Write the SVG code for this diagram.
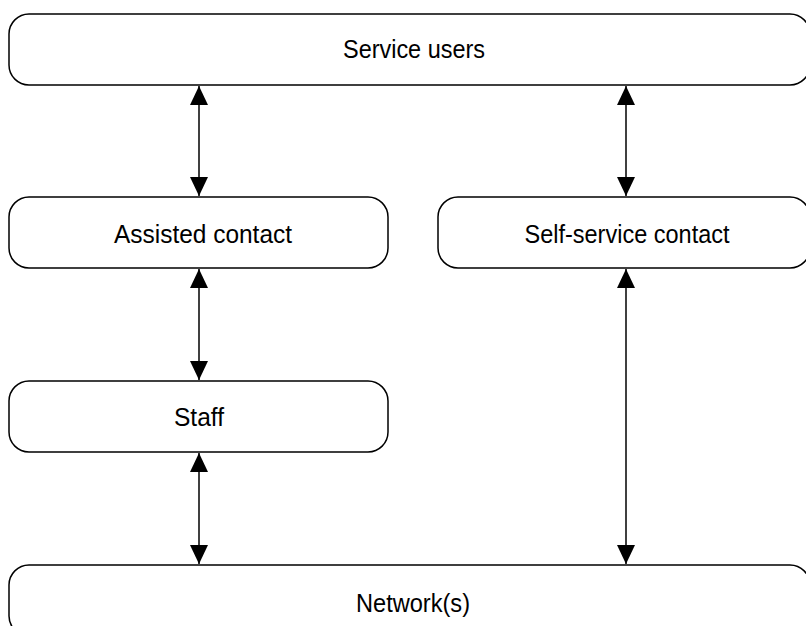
<svg xmlns="http://www.w3.org/2000/svg" width="806" height="626" viewBox="0 0 806 626">
<defs>
<style>
.box{fill:#fff;stroke:#000;stroke-width:1.5}
.lbl{font-family:"Liberation Sans",Arial,sans-serif;font-size:25px;fill:#000;text-anchor:middle}
.con{stroke:#000;stroke-width:1.5;fill:none;marker-start:url(#ah);marker-end:url(#ah)}
</style>
<marker id="ah" viewBox="0 0 19 18" refX="19" refY="9" markerWidth="19" markerHeight="18" markerUnits="userSpaceOnUse" orient="auto-start-reverse">
<path d="M0,0 L19,9 L0,18 Z" fill="#000"/>
</marker>
</defs>
<rect width="806" height="626" fill="#fff"/>
<g id="service-users">
<rect class="box" x="9" y="14" width="801" height="71" rx="20"/>
<text class="lbl" x="414" y="58" textLength="142" lengthAdjust="spacingAndGlyphs">Service users</text>
</g>
<g id="assisted-contact">
<rect class="box" x="9" y="197" width="379" height="71" rx="20"/>
<text class="lbl" x="203" y="243" textLength="178" lengthAdjust="spacingAndGlyphs">Assisted contact</text>
</g>
<g id="self-service-contact">
<rect class="box" x="438" y="197" width="372" height="71" rx="20"/>
<text class="lbl" x="627" y="243" textLength="205" lengthAdjust="spacingAndGlyphs">Self-service contact</text>
</g>
<g id="staff">
<rect class="box" x="9" y="381" width="379" height="71" rx="20"/>
<text class="lbl" x="199" y="426" textLength="50" lengthAdjust="spacingAndGlyphs">Staff</text>
</g>
<g id="networks">
<rect class="box" x="9" y="565" width="801" height="71" rx="20"/>
<text class="lbl" x="413" y="612" textLength="114" lengthAdjust="spacingAndGlyphs">Network(s)</text>
</g>
<g id="connectors">
<line class="con" x1="199" y1="86" x2="199" y2="196"/>
<line class="con" x1="626" y1="86" x2="626" y2="196"/>
<line class="con" x1="199" y1="269" x2="199" y2="380"/>
<line class="con" x1="199" y1="453" x2="199" y2="564"/>
<line class="con" x1="626" y1="269" x2="626" y2="564"/>
</g>
</svg>
